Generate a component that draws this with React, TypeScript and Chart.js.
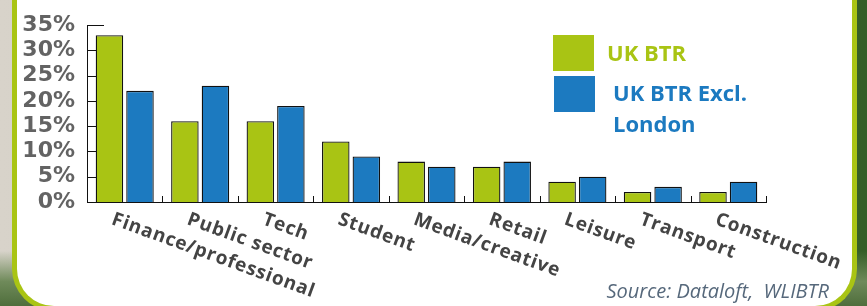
import React, { useEffect, useRef } from "react";
import { Chart, registerables } from "chart.js";

Chart.register(...registerables);

const categories = [
  "Finance/professional",
  "Public sector",
  "Tech",
  "Student",
  "Media/creative",
  "Retail",
  "Leisure",
  "Transport",
  "Construction",
];
const ukBtr = [33, 16, 16, 12, 8, 7, 4, 2, 2];
const ukBtrExLondon = [22, 23, 19, 9, 7, 8, 5, 3, 4];
const seriesNames = ["UK BTR", "UK BTR Excl. London"];
const legendLines = [["UK BTR"], ["UK BTR Excl.", "London"]];
const yTickValues = [0, 5, 10, 15, 20, 25, 30, 35];
const sourceText = "Source: Dataloft,  WLIBTR";

const GREEN = "#a9c414";
const BLUE = "#1c7ac0";

const decor = {
  id: "decor",
  beforeDatasetsDraw(chart: any) {
    const { ctx, chartArea, scales } = chart;
    const x = scales.x;
    const y = scales.y;
    ctx.save();
    ctx.strokeStyle = "#111";
    ctx.lineWidth = 1;
    yTickValues.forEach((v) => {
      const py = Math.round(y.getPixelForValue(v)) + 0.5;
      ctx.beginPath();
      ctx.moveTo(chartArea.left, py);
      ctx.lineTo(chartArea.left + 17, py);
      ctx.stroke();
    });
    const half = (x.getPixelForValue(1) - x.getPixelForValue(0)) / 2;
    for (let i = 0; i < categories.length; i++) {
      const px = Math.round(x.getPixelForValue(i) + half) + 0.5;
      ctx.beginPath();
      ctx.moveTo(px, chartArea.bottom);
      ctx.lineTo(px, chartArea.bottom - 6);
      ctx.stroke();
    }
    ctx.restore();
  },
  afterDraw(chart: any) {
    const { ctx, chartArea, scales } = chart;
    const x = scales.x;
    ctx.save();
    ctx.font = "700 19px 'Open Sans'";
    ctx.fillStyle = "#444444";
    ctx.textAlign = "left";
    ctx.textBaseline = "top";
    try {
      (ctx as any).letterSpacing = "0.8px";
    } catch (e) {}
    categories.forEach((c, i) => {
      const px = x.getPixelForValue(i) - 9;
      const py = chartArea.bottom + 8;
      ctx.save();
      ctx.translate(px, py);
      ctx.rotate((20 * Math.PI) / 180);
      ctx.fillText(c, 0, 0);
      ctx.restore();
    });
    try {
      (ctx as any).letterSpacing = "0px";
    } catch (e) {}
    const ds = chart.data.datasets;
    const boxes = [
      { x: 553, y: 35 },
      { x: 554, y: 76 },
    ];
    const textX = [607, 613];
    const textY = [[55], [95, 126]];
    ctx.font = "700 22px 'Open Sans'";
    ctx.textBaseline = "middle";
    ds.forEach((d: any, i: number) => {
      ctx.fillStyle = d.backgroundColor;
      ctx.fillRect(boxes[i].x, boxes[i].y, 41, 36);
      legendLines[i].forEach((t, j) => {
        ctx.fillText(t, textX[i], textY[i][j]);
      });
    });
    ctx.font = "italic 400 20px 'Open Sans'";
    ctx.fillStyle = "#56687b";
    ctx.textAlign = "right";
    ctx.textBaseline = "alphabetic";
    ctx.fillText(sourceText, 829, 298);
    ctx.restore();
  },
};

export default function App() {
  const ref = useRef<HTMLCanvasElement>(null);
  useEffect(() => {
    if (!ref.current) return;
    const chart = new Chart(ref.current, {
      type: "bar",
      data: {
        labels: categories,
        datasets: [
          {
            label: seriesNames[0],
            data: ukBtr,
            backgroundColor: GREEN,
            borderColor: "#111",
            borderWidth: 1.3,
          },
          {
            label: seriesNames[1],
            data: ukBtrExLondon,
            backgroundColor: BLUE,
            borderColor: "#111",
            borderWidth: 1.3,
          },
        ],
      },
      options: {
        responsive: false,
        animation: false,
        events: [],
        layout: { padding: { left: 0, top: 19, right: 101, bottom: 0 } },
        datasets: {
          bar: { categoryPercentage: 0.81, barPercentage: 0.9 },
        },
        plugins: {
          legend: { display: false },
          tooltip: { enabled: false },
          title: { display: false },
        },
        scales: {
          x: {
            grid: { display: false },
            border: { display: true, color: "#111", width: 1 },
            ticks: { display: false },
            afterFit: (s: any) => {
              s.height = 104;
            },
          },
          y: {
            min: 0,
            max: 35,
            grid: { display: false, drawTicks: false },
            border: { display: true, color: "#111", width: 1 },
            ticks: {
              stepSize: 5,
              autoSkip: false,
              padding: 12,
              color: "#636363",
              font: { family: "'DejaVu Sans'", weight: "bold", size: 22 },
              callback: (v: any) => v + "%",
            },
            afterFit: (s: any) => {
              s.width = 87;
            },
          },
        },
      },
      plugins: [decor],
    });
    return () => chart.destroy();
  }, []);

  return (
    <div
      style={{
        position: "fixed",
        left: 0,
        top: 0,
        width: 867,
        height: 306,
        overflow: "hidden",
        background:
          "linear-gradient(180deg, rgba(0,0,0,0) 0%, rgba(0,0,0,0) 82%, #6f8a5a 92%, #4f6e3c 100%), linear-gradient(90deg, #d8d3ca 0%, #cfcac0 48%, #3f6a2e 52%, #355e27 100%)",
      }}
    >
      <div
        style={{
          position: "absolute",
          left: 12,
          right: 10,
          top: -60,
          bottom: -5,
          background: "#ffffff",
          border: "5px solid #a9c414",
          borderTop: "none",
          borderRadius: "0 0 42px 42px",
          boxSizing: "border-box",
        }}
      />
      <canvas
        ref={ref}
        width={867}
        height={306}
        style={{ position: "absolute", left: 0, top: 0, width: 867, height: 306 }}
      />
    </div>
  );
}
